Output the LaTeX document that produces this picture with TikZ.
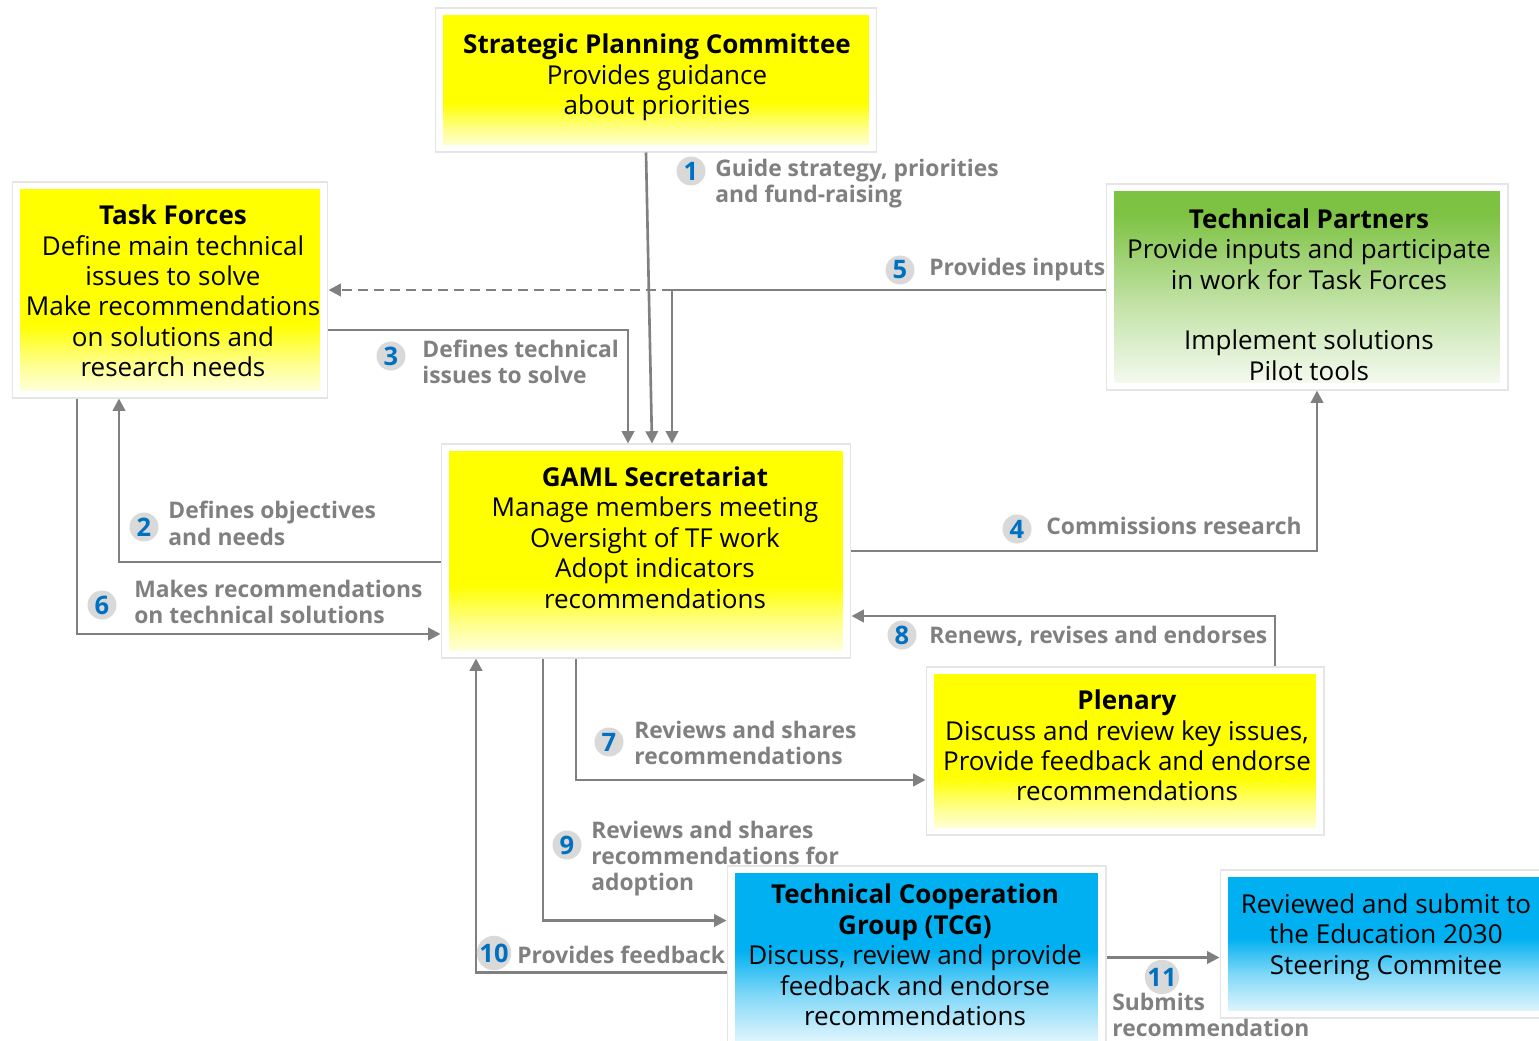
\documentclass[tikz,border=0pt]{standalone}
\usepackage{fontspec}
\setmainfont{Open Sans}
\usetikzlibrary{calc,arrows.meta}

\definecolor{lnk}{HTML}{808080}
\definecolor{numblue}{HTML}{0070C0}
\definecolor{badge}{HTML}{D9D9D9}
\definecolor{ylw}{HTML}{FFFF00}
\definecolor{grn}{HTML}{7DC242}
\definecolor{sky}{HTML}{00B0F0}

% colour panels: solid at the top, fading towards white at the bottom
\pgfdeclareverticalshading{yfade}{100bp}{
  color(0bp)=(ylw!6!white); color(25bp)=(ylw!6!white);
  color(33bp)=(ylw!45!white); color(42bp)=(ylw); color(100bp)=(ylw)}
\pgfdeclareverticalshading{gfade}{100bp}{
  color(0bp)=(grn!5!white); color(25bp)=(grn!5!white);
  color(45bp)=(grn!45!white); color(68bp)=(grn); color(100bp)=(grn)}
\pgfdeclareverticalshading{bfade}{100bp}{
  color(0bp)=(sky!6!white); color(25bp)=(sky!6!white);
  color(40bp)=(sky!50!white); color(52bp)=(sky); color(100bp)=(sky)}

\tikzset{
  % white framed box with a shaded colour panel inside
  box/.style n args={3}{
    minimum width=#1, minimum height=#2, inner sep=0pt,
    fill=white, draw=black!10, line width=0.6pt,
    path picture={
      \shade[shading=#3]
        ($(path picture bounding box.north west)+(0.16cm,-0.14cm)$)
        rectangle
        ($(path picture bounding box.south east)+(-0.16cm,0.14cm)$);
    }},
  boxtext/.style={align=center, inner sep=0pt,
    font=\fontsize{14.8}{17.3}\selectfont},
  conn/.style={draw=lnk, line width=1.5pt,
    -{Triangle[length=7pt,width=7pt]}},
  lbl/.style={anchor=west, align=left, inner sep=0pt, text=lnk,
    font=\bfseries\fontsize{13}{15}\selectfont},
  num/.style={circle, fill=badge, minimum size=0.58cm, inner sep=0pt,
    text=numblue, font=\bfseries\fontsize{14.5}{14.5}\selectfont},
}

\begin{document}
\begin{tikzpicture}[x=0.02cm, y=-0.02cm]
\useasboundingbox (0,0) rectangle (1539,1041);

% ---- boxes ----
\node[box={8.84cm}{2.88cm}{yfade}] (spc) at (656,80) {};
\node[box={6.32cm}{4.32cm}{yfade}] (tf) at (170,290) {};
\node[box={8.04cm}{4.12cm}{gfade}] (tp) at (1307,287) {};
\node[box={8.20cm}{4.28cm}{yfade}] (gaml) at (646,551) {};
\node[box={7.96cm}{3.36cm}{yfade}] (plen) at (1125,751) {};
\node[box={7.58cm}{3.66cm}{bfade}] (tcg) at (916.5,957.5) {};
\node[box={6.54cm}{2.96cm}{bfade}] (edu) at (1383.5,944) {};

% ---- box texts ----
\node[boxtext] (spct) at (657,77.5)
  {\textbf{Strategic Planning Committee}\\Provides guidance\\about priorities};
\node[boxtext] (tft) at (173,291)
  {\textbf{Task Forces}\\Define main technical\\issues to solve\\Make recommendations\\on solutions and\\research needs};
\node[boxtext] (tpt) at (1309,294.5)
  {\textbf{Technical Partners}\\Provide inputs and participate\\in work for Task Forces\\[17.3pt]Implement solutions\\Pilot tools};
\node[boxtext] (gamlt) at (655,537.5)
  {\textbf{GAML Secretariat}\\Manage members meeting\\Oversight of TF work\\Adopt indicators\\recommendations};
\node[boxtext] (plent) at (1127,745.5)
  {\textbf{Plenary}\\Discuss and review key issues,\\Provide feedback and endorse\\recommendations};
\node[boxtext] (tcgt) at (915,955)
  {\textbf{Technical Cooperation}\\\textbf{Group (TCG)}\\Discuss, review and provide\\feedback and endorse\\recommendations};
\node[boxtext] (edut) at (1386,937)
  {Reviewed and submit to\\the Education 2030\\Steering Commitee};

% ---- connectors ----
% 1 guidance from the committee
\draw[conn] ($(spc.south)+(-10,0)$) -- ($(gaml.north)+(6,0)$);
% 2 objectives back to the task forces
\draw[conn] ($(gaml.west)+(0,11)$) -| ($(tf.south)+(-51,0)$);
% 3 technical issues to the secretariat
\draw[conn] ($(tf.east)+(0,40)$) -| ($(gaml.north)+(-18,0)$);
% 4 research commissioned from partners
\draw[conn] (gaml.east) -| ($(tp.south)+(10,0)$);
% 5 inputs from partners, split to task forces and secretariat
\coordinate (j5) at (672,290);
\draw[draw=lnk, line width=1pt] ($(tp.west)+(0,3)$) -- (j5);
\draw[conn, dash pattern=on 0.2cm off 0.12cm] (j5) -- (tf.east |- j5);
\draw[conn] (j5) -- (j5 |- gaml.north);
% 6 recommendations from task forces
\draw[conn] ($(tf.south)+(-93,0)$) |- ($(gaml.west)+(0,83)$);
% 7 shared with the plenary
\draw[conn] ($(gaml.south)+(-70,0)$) |- ($(plen.west)+(0,29)$);
% 8 plenary endorsement
\draw[conn] ($(plen.north)+(150,0)$) |- ($(gaml.east)+(0,65)$);
% 9 shared with the TCG
\draw[conn] ($(gaml.south)+(-103,0)$) |- ($(tcg.west)+(0,-37)$);
% 10 TCG feedback
\draw[conn] ($(tcg.west)+(0,15)$) -| ($(gaml.south)+(-170,0)$);
% 11 submission to the steering committee
\draw[conn] (tcg.east) -- (edu.west |- tcg.east);

% ---- step labels ----
\node[num] (n1) at (691,171) {1};
\node[lbl] (l1) at (715,183.5) {Guide strategy, priorities\\and fund-raising};
\node[num] (n2) at (144,527) {2};
\node[lbl] (l2) at (168,523.5) {Defines objectives\\and needs};
\node[num] (n3) at (391,356) {3};
\node[lbl] (l3) at (422,362) {Defines technical\\issues to solve};
\node[num] (n4) at (1017,529) {4};
\node[lbl] (l4) at (1046,526) {Commissions research};
\node[num] (n5) at (900,270) {5};
\node[lbl] (l5) at (929,270) {Provides inputs};
\node[num] (n6) at (102,605) {6};
\node[lbl] (l6) at (134,602) {Makes recommendations\\on technical solutions};
\node[num] (n7) at (609,742) {7};
\node[lbl] (l7) at (634,743) {Reviews and shares\\recommendations};
\node[num] (n8) at (902,635) {8};
\node[lbl] (l8) at (929,636) {Renews, revises and endorses};
\node[num] (n9) at (567,845) {9};
\node[lbl] (l9) at (591,858.5) {Reviews and shares\\recommendations for\\adoption};
\node[num] (n10) at (494,953) {10};
\node[lbl] (l10) at (517,955) {Provides feedback};
\node[num] (n11) at (1162,977) {11};
\node[lbl] (l11) at (1112,1015) {Submits\\recommendation};
\end{tikzpicture}
\end{document}
